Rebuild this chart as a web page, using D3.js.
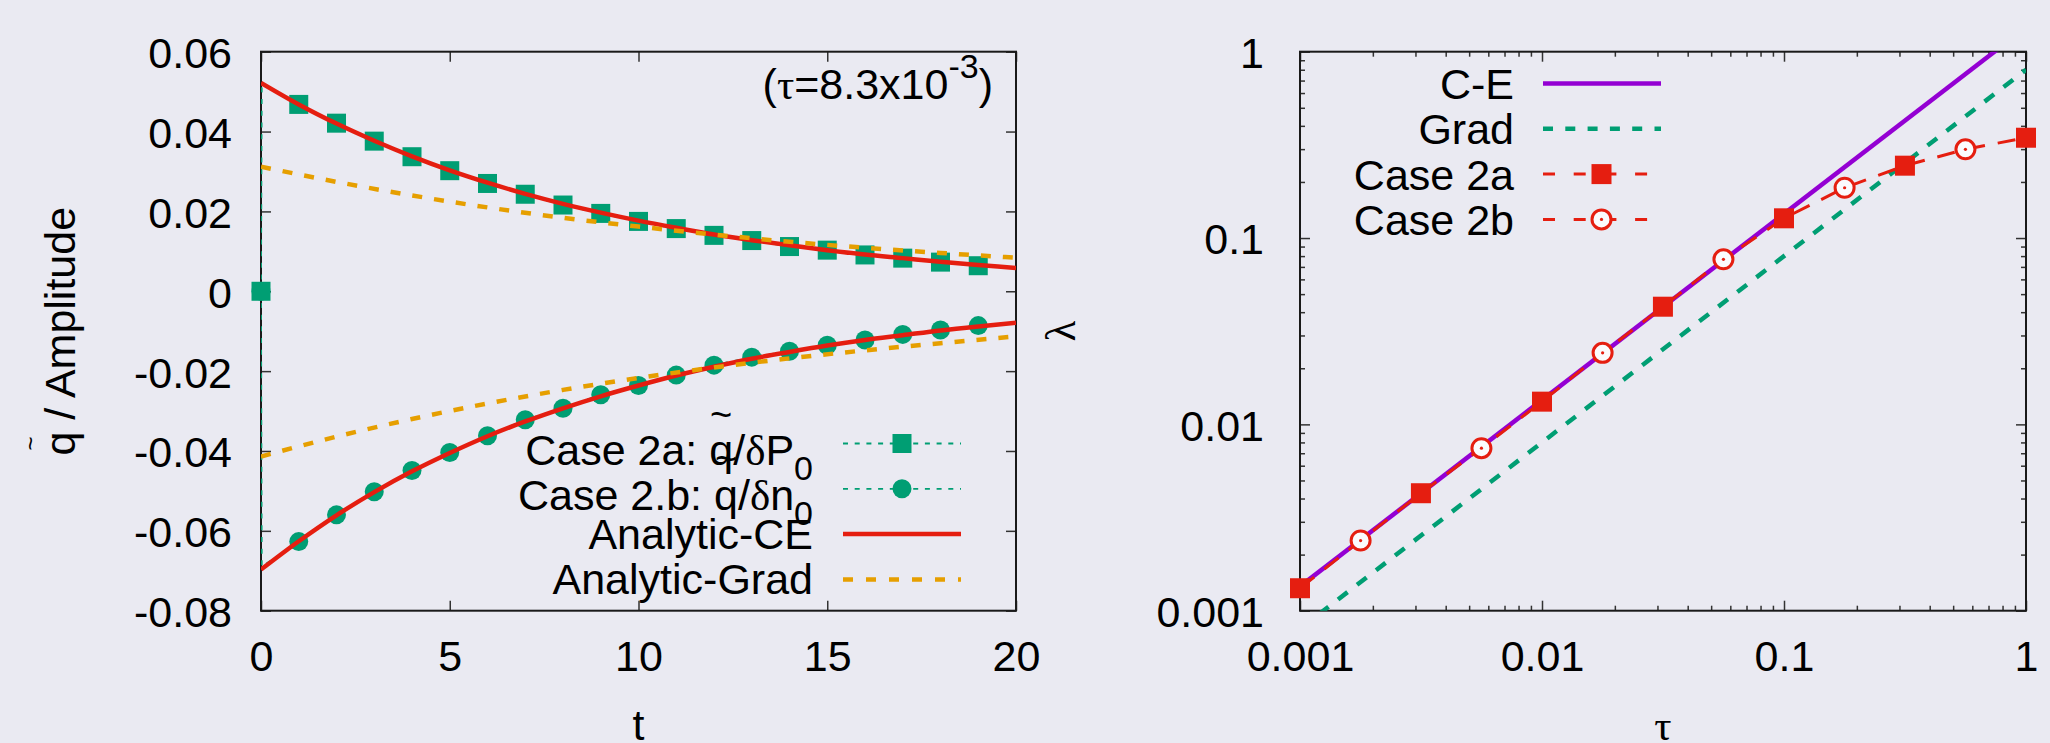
<!DOCTYPE html>
<html>
<head>
<meta charset="utf-8">
<script src="https://cdn.jsdelivr.net/npm/d3@7"></script>
<style>
  body { margin: 0; background: #eaeaf2; }
  svg { display: block; font-family: "Liberation Sans", Arial, Helvetica, sans-serif; }
</style>
</head>
<body>
<svg id="chart" width="2050" height="743"></svg>
<script>
// ---- left panel: amplitude vs t ----
const tData = [0, 0.02, 1, 2, 3, 4, 5, 6, 7, 8, 9, 10, 11, 12, 13, 14, 15, 16, 17, 18, 19];
const case2a = [0, 0.052, 0.0468, 0.0421, 0.0376, 0.0337, 0.0302, 0.0270, 0.0243, 0.0216, 0.0195,
  0.0175, 0.0157, 0.0140, 0.0127, 0.0112, 0.0103, 0.0091, 0.0083, 0.0073, 0.0064];
const case2b = [0, -0.069, -0.0627, -0.0560, -0.0502, -0.0449, -0.0404, -0.0362, -0.0322, -0.0293, -0.0259,
  -0.0236, -0.0210, -0.0185, -0.0165, -0.0150, -0.0135, -0.0122, -0.0108, -0.0097, -0.0086];
const tCurve = [0, 1, 2, 3, 4, 5, 6, 7, 8, 9, 10, 11, 12, 13, 14, 15, 16, 17, 18, 19, 20];
const ceUpper = [0.0522, 0.0468, 0.0420, 0.0377, 0.0338, 0.0303, 0.0272, 0.0244, 0.0219, 0.0197, 0.0177,
  0.0159, 0.0142, 0.0128, 0.0115, 0.0103, 0.0092, 0.0083, 0.0074, 0.0066, 0.0058];
const ceLower = [-0.0697, -0.0626, -0.0561, -0.0503, -0.0451, -0.0405, -0.0363, -0.0326, -0.0293, -0.0263, -0.0236,
  -0.0211, -0.0189, -0.0169, -0.0152, -0.0136, -0.0122, -0.0110, -0.0098, -0.0088, -0.0079];
const tGrad = [0, 2, 4, 6, 8, 10, 12, 14, 16, 18, 20];
const gradUpper = [0.0312, 0.0274, 0.0240, 0.0210, 0.0184, 0.0162, 0.0142, 0.0124, 0.0109, 0.0096, 0.0084];
const gradLower = [-0.0414, -0.0364, -0.0320, -0.0281, -0.0247, -0.0217, -0.0191, -0.0168, -0.0148, -0.0130, -0.0113];
const tTicks = [0, 5, 10, 15, 20];
const qTicks = [-0.08, -0.06, -0.04, -0.02, 0, 0.02, 0.04, 0.06];

// ---- right panel: lambda vs tau ----
const tauCE = [0.001, 1];
const lamCE = [0.00135, 1.35];
const tauGrad = [0.001, 1];
const lamGrad = [0.0008, 0.8];
const tau2a = [0.001, 0.00316, 0.01, 0.0316, 0.1, 0.316, 1];
const lam2a = [0.00132, 0.00427, 0.01324, 0.0428, 0.1276, 0.2445, 0.3454];
const tau2b = [0.00178, 0.00562, 0.0178, 0.0562, 0.178, 0.562];
const lam2b = [0.00238, 0.00745, 0.0242, 0.0769, 0.1862, 0.2993];
const tauTicks = [0.001, 0.01, 0.1, 1];
const lamTicks = [0.001, 0.01, 0.1, 1];

const GREEN = '#009E73', RED = '#E51E10', ORANGE = '#E69F00', PURPLE = '#9400D3';
const sans = '"Liberation Sans", Arial, Helvetica, sans-serif';
const serif = '"Liberation Serif", "Times New Roman", serif';
const FS = 43;

const svg = d3.select('#chart');

const L = { left: 261, top: 51.7, right: 1016, bottom: 610.7 };
const R = { left: 1300, top: 51.7, right: 2026, bottom: 610.7 };

const x1 = d3.scaleLinear().domain([0, 20]).range([L.left, L.right]);
const y1 = d3.scaleLinear().domain([-0.08, 0.06]).range([L.bottom, L.top]);
const x2 = d3.scaleLog().domain([0.001, 1]).range([R.left, R.right]);
const y2 = d3.scaleLog().domain([0.001, 1]).range([R.bottom, R.top]);

// clip areas for the lines
const defs = svg.append('defs');
[['clipL', L], ['clipR', R]].forEach(([id, b]) => {
  defs.append('clipPath').attr('id', id).append('rect')
    .attr('x', b.left).attr('y', b.top).attr('width', b.right - b.left).attr('height', b.bottom - b.top);
});

function drawAxes(x, y, box, xMajor, yMajor, yPad, logMinor) {
  const g = svg.append('g').style('color', '#333');
  const dress = (sel) => {
    sel.select('.domain').remove();
    sel.selectAll('.tick line').attr('stroke-width', 1.5);
    sel.selectAll('text').style('font-size', FS + 'px').style('font-family', sans).attr('fill', '#000');
  };
  const fmt = (d) => String(d);
  const none = () => '';
  const sides = (vals, size, labels) => {
    g.append('g').attr('transform', `translate(0,${box.bottom})`)
      .call(d3.axisBottom(x).tickValues(vals.x).tickFormat(labels ? fmt : none).tickSize(-size).tickPadding(30))
      .call(dress);
    g.append('g').attr('transform', `translate(0,${box.top})`)
      .call(d3.axisTop(x).tickValues(vals.x).tickFormat(none).tickSize(-size))
      .call(dress);
    g.append('g').attr('transform', `translate(${box.left},0)`)
      .call(d3.axisLeft(y).tickValues(vals.y).tickFormat(labels ? fmt : none).tickSize(-size).tickPadding(yPad))
      .call(dress)
      .selectAll('text').attr('dy', '0.37em');
    g.append('g').attr('transform', `translate(${box.right},0)`)
      .call(d3.axisRight(y).tickValues(vals.y).tickFormat(none).tickSize(-size))
      .call(dress);
  };
  sides({ x: xMajor, y: yMajor }, 10, true);
  if (logMinor) {
    const minor = (s) => s.ticks().filter((v) => Math.abs(Math.log10(v) - Math.round(Math.log10(v))) > 1e-6);
    sides({ x: minor(x), y: minor(y) }, 5, false);
  }
  g.append('rect')
    .attr('x', box.left).attr('y', box.top)
    .attr('width', box.right - box.left).attr('height', box.bottom - box.top)
    .attr('fill', 'none').attr('stroke', '#1a1a1a').attr('stroke-width', 2);
}

drawAxes(x1, y1, L, tTicks, qTicks, 29, false);
drawAxes(x2, y2, R, tauTicks, lamTicks, 36, true);

// ---- left panel marks ----
const zip = (xs, ys) => xs.map((v, i) => ({ x: v, y: ys[i] }));
const lineL = d3.line().x((d) => x1(d.x)).y((d) => y1(d.y));
const smoothL = d3.line().x((d) => x1(d.x)).y((d) => y1(d.y)).curve(d3.curveMonotoneX);
const gL = svg.append('g');

[case2b, case2a].forEach((vals) => {
  gL.append('path').datum(zip(tData, vals)).attr('clip-path', 'url(#clipL)')
    .attr('d', lineL).attr('fill', 'none').attr('stroke', GREEN)
    .attr('stroke-width', 1.8).attr('stroke-dasharray', '5 6.7');
});
gL.append('g').selectAll('circle')
  .data(zip(tData, case2b).filter((d) => Number.isInteger(d.x)))
  .join('circle')
  .attr('cx', (d) => x1(d.x)).attr('cy', (d) => y1(d.y)).attr('r', 9.5).attr('fill', GREEN);
gL.append('g').selectAll('rect')
  .data(zip(tData, case2a).filter((d) => Number.isInteger(d.x)))
  .join('rect')
  .attr('x', (d) => x1(d.x) - 9.5).attr('y', (d) => y1(d.y) - 9.5)
  .attr('width', 19).attr('height', 19).attr('fill', GREEN);

[ceUpper, ceLower].forEach((vals) => {
  gL.append('path').datum(zip(tCurve, vals)).attr('clip-path', 'url(#clipL)')
    .attr('d', smoothL).attr('fill', 'none').attr('stroke', RED).attr('stroke-width', 4.5);
});
[gradUpper, gradLower].forEach((vals) => {
  gL.append('path').datum(zip(tGrad, vals)).attr('clip-path', 'url(#clipL)')
    .attr('d', smoothL).attr('fill', 'none').attr('stroke', ORANGE)
    .attr('stroke-width', 4.5).attr('stroke-dasharray', '10 12');
});

// ---- right panel marks ----
const lineR = d3.line().x((d) => x2(d.x)).y((d) => y2(d.y));
const gR = svg.append('g');
gR.append('path').datum(zip(tauCE, lamCE)).attr('clip-path', 'url(#clipR)')
  .attr('d', lineR).attr('fill', 'none').attr('stroke', PURPLE).attr('stroke-width', 4.5);
gR.append('path').datum(zip(tauGrad, lamGrad)).attr('clip-path', 'url(#clipR)')
  .attr('d', lineR).attr('fill', 'none').attr('stroke', GREEN)
  .attr('stroke-width', 4.5).attr('stroke-dasharray', '12 12');
const cases = zip(tau2a, lam2a).concat(zip(tau2b, lam2b)).sort((a, b) => a.x - b.x);
gR.append('path').datum(cases).attr('clip-path', 'url(#clipR)')
  .attr('d', lineR).attr('fill', 'none').attr('stroke', RED)
  .attr('stroke-width', 3).attr('stroke-dasharray', '18 13');
gR.append('g').selectAll('rect').data(zip(tau2a, lam2a)).join('rect')
  .attr('x', (d) => x2(d.x) - 10).attr('y', (d) => y2(d.y) - 10)
  .attr('width', 20).attr('height', 20).attr('fill', RED);
const openC = gR.append('g').selectAll('g').data(zip(tau2b, lam2b)).join('g')
  .attr('transform', (d) => `translate(${x2(d.x)},${y2(d.y)})`);
openC.append('circle').attr('r', 9.5).attr('fill', '#fbfbfd').attr('stroke', RED).attr('stroke-width', 3);
openC.append('circle').attr('r', 1.6).attr('fill', RED);

// ---- text helpers ----
function rich(g, x, y, parts, anchor) {
  const t = g.append('text').attr('x', x).attr('y', y)
    .attr('text-anchor', anchor).attr('font-size', FS).attr('fill', '#000');
  let raised = 0;
  parts.forEach((p) => {
    const s = t.append('tspan').text(p.s);
    const shift = p.sub ? 15 : p.sup ? -21 : 0;
    if (shift !== raised) { s.attr('dy', shift - raised); raised = shift; }
    if (p.sub || p.sup) s.attr('font-size', 34);
    if (p.serif) s.attr('font-family', serif);
  });
  return t;
}
function tilde(g, textSel, idx, lift, size) {
  const ext = textSel.node().getExtentOfChar(idx);
  g.append('text')
    .attr('x', ext.x + ext.width / 2).attr('y', +textSel.attr('y') - lift)
    .attr('text-anchor', 'middle').attr('font-size', size).attr('fill', '#000').text('~');
}

// ---- axis titles ----
const yLab = svg.append('g').attr('transform', `translate(75,${(L.top + L.bottom) / 2}) rotate(-90)`);
const yLabText = rich(yLab, 0, 0, [{ s: 'q / Amplitude' }], 'middle');
tilde(yLab, yLabText, 0, 36, 24);
svg.append('text').attr('x', (L.left + L.right) / 2).attr('y', 740)
  .attr('text-anchor', 'middle').attr('font-size', FS).text('t');

svg.append('g').attr('transform', `translate(1075,${(R.top + R.bottom) / 2}) rotate(-90)`)
  .append('text').attr('text-anchor', 'middle').attr('font-size', FS)
  .attr('font-family', serif).text('λ');
svg.append('text').attr('x', (R.left + R.right) / 2).attr('y', 740)
  .attr('text-anchor', 'middle').attr('font-size', FS).attr('font-family', serif).text('τ');

// annotation
rich(svg, 993, 99, [
  { s: '(' }, { s: 'τ', serif: true }, { s: '=8.3x10' }, { s: '-3', sup: true }, { s: ')' }
], 'end');

// ---- legends ----
const legL = [
  { parts: [{ s: 'Case 2a: ' }, { s: 'q' }, { s: '/' }, { s: 'δ', serif: true }, { s: 'P' }, { s: '0', sub: true }],
    q: 9, shift: 6.5, kind: 'square' },
  { parts: [{ s: 'Case 2.b: ' }, { s: 'q' }, { s: '/' }, { s: 'δ', serif: true }, { s: 'n' }, { s: '0', sub: true }],
    q: 10, shift: 6, kind: 'circle' },
  { parts: [{ s: 'Analytic-CE' }], shift: 0, kind: 'ce' },
  { parts: [{ s: 'Analytic-Grad' }], shift: 0, kind: 'grad' }
];
const gLegL = svg.append('g');
legL.forEach((e, i) => {
  const yy = 443.5 + i * 45.3;
  const t = rich(gLegL, 813, yy + 15 + e.shift, e.parts, 'end');
  if (e.q !== undefined) tilde(gLegL, t, e.q, 37.5, 38);
  const ln = gLegL.append('line').attr('x1', 843).attr('x2', 961).attr('y1', yy).attr('y2', yy).attr('fill', 'none');
  if (e.kind === 'square' || e.kind === 'circle') {
    ln.attr('stroke', GREEN).attr('stroke-width', 1.8).attr('stroke-dasharray', '5 6.7');
    if (e.kind === 'square') {
      gLegL.append('rect').attr('x', 902 - 9.5).attr('y', yy - 9.5).attr('width', 19).attr('height', 19).attr('fill', GREEN);
    } else {
      gLegL.append('circle').attr('cx', 902).attr('cy', yy).attr('r', 9.5).attr('fill', GREEN);
    }
  } else if (e.kind === 'ce') {
    ln.attr('stroke', RED).attr('stroke-width', 4.5);
  } else {
    ln.attr('stroke', ORANGE).attr('stroke-width', 4.5).attr('stroke-dasharray', '10 13');
  }
});

const legR = [
  { label: 'C-E', kind: 'ce' },
  { label: 'Grad', kind: 'grad' },
  { label: 'Case 2a', kind: 'square' },
  { label: 'Case 2b', kind: 'circle' }
];
const gLegR = svg.append('g');
legR.forEach((e, i) => {
  const yy = 83.5 + i * 45.3;
  gLegR.append('text').attr('x', 1514).attr('y', yy + 15.5)
    .attr('text-anchor', 'end').attr('font-size', FS).text(e.label);
  const ln = gLegR.append('line').attr('x1', 1543).attr('x2', 1661).attr('y1', yy).attr('y2', yy);
  if (e.kind === 'ce') ln.attr('stroke', PURPLE).attr('stroke-width', 4.5);
  else if (e.kind === 'grad') ln.attr('stroke', GREEN).attr('stroke-width', 4.5).attr('stroke-dasharray', '10 12.3');
  else {
    ln.attr('stroke', RED).attr('stroke-width', 3).attr('stroke-dasharray', '12 18.7');
    if (e.kind === 'square') {
      gLegR.append('rect').attr('x', 1601.5 - 10).attr('y', yy - 10).attr('width', 20).attr('height', 20).attr('fill', RED);
    } else {
      gLegR.append('circle').attr('cx', 1601.5).attr('cy', yy).attr('r', 9.5)
        .attr('fill', '#fbfbfd').attr('stroke', RED).attr('stroke-width', 3);
      gLegR.append('circle').attr('cx', 1601.5).attr('cy', yy).attr('r', 1.6).attr('fill', RED);
    }
  }
});
</script>
</body>
</html>
